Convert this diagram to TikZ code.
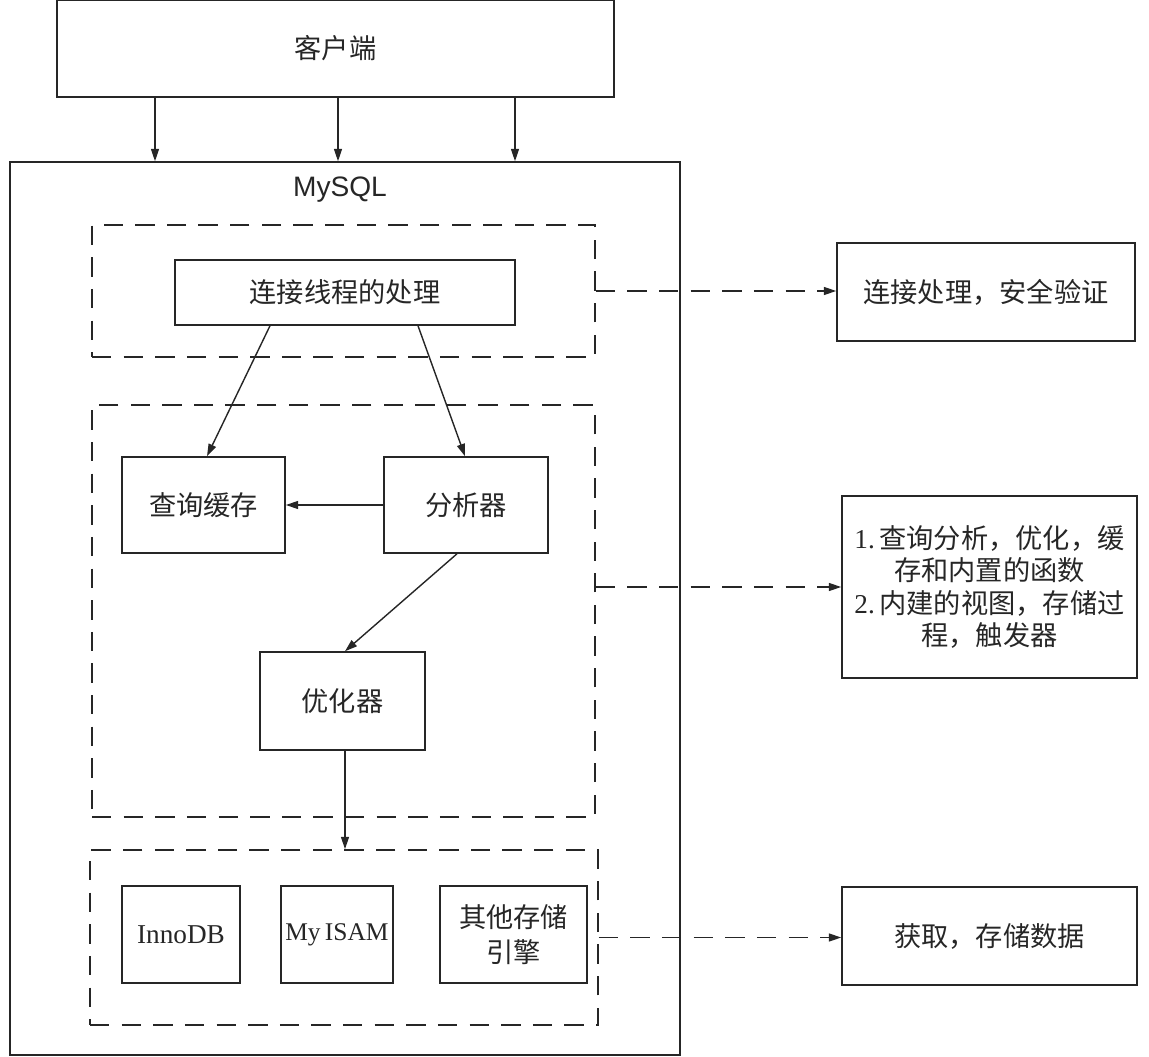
\documentclass[tikz,border=0pt]{standalone}
\usepackage{fontspec}
\setmainfont{Noto Sans CJK SC}
\newfontfamily\latin{Liberation Serif}
\newfontfamily\arial{Liberation Sans}
\usetikzlibrary{arrows.meta}
\definecolor{ink}{gray}{0.15}
\tikzset{
  every node/.style={
    text=ink
  },
  box/.style={draw=ink, line width=0.9pt, align=center, inner sep=2pt},
  group/.style={draw=ink, line width=0.9pt, dash pattern=on 11pt off 7pt},
  arr/.style={draw=ink, line width=0.8pt, -{Triangle[length=7pt,width=4.5pt]}},
  darr/.style={arr, dash pattern=on 11pt off 7pt}
}

\begin{document}
\begin{tikzpicture}[x=0.02cm, y=-0.02cm, font=\fontsize{15.5}{18}\selectfont]
    %\draw[gray, very thin] (0,0) grid (1149,1057);
    \useasboundingbox (0,0) rectangle (1149,1057);
    % client and server
    \node[box, minimum width=11.14cm, minimum height=1.94cm] (client) at (335.5,48.5) {客户端};
    \node[box, minimum width=13.4cm, minimum height=17.86cm] (mysql) at (345,608.5) {};
    \node[font=\arial\fontsize{16}{18}\selectfont] (title) at (340,190) {MySQL};
    \foreach \x in {155,338,515}
        \draw[arr] (client.south -| \x,0) -- (mysql.north -| \x,0);
    % dashed groups
    \node[group, minimum width=10.06cm, minimum height=2.64cm] (grp1) at (343.5,291) {};
    \node[group, minimum width=10.06cm, minimum height=8.24cm] (grp2) at (343.5,611) {};
    \node[group, minimum width=10.16cm, minimum height=3.5cm] (grp3) at (344,937.5) {};
    % inner boxes
    \node[box, minimum width=6.8cm, minimum height=1.3cm] (conn) at (345,292.5) {连接线程的处理};
    \node[box, minimum width=3.26cm, minimum height=1.92cm] (cache) at (203.5,505) {查询缓存};
    \node[box, minimum width=3.28cm, minimum height=1.92cm] (parser) at (466,505) {分析器};
    \node[box, minimum width=3.3cm, minimum height=1.96cm] (optim) at (342.5,701) {优化器};
    \node[box, minimum width=2.36cm, minimum height=1.94cm, font=\latin\fontsize{15.5}{18}\selectfont] (innodb) at (181,934.5) {InnoDB};
    \node[box, minimum width=2.24cm, minimum height=1.94cm, inner sep=0pt, font=\latin\fontsize{14.5}{18}\selectfont] (myisam) at (337,934.5) {My\,ISAM};
    \node[box, minimum width=2.94cm, minimum height=1.94cm, font=\fontsize{15.5}{20}\selectfont] (other) at (513.5,934.5) {其他存储\\引擎};
    % notes on the right
    \node[box, minimum width=5.96cm, minimum height=1.96cm] (note1) at (986,292) {连接处理，安全验证};
    \node[box, minimum width=5.9cm, minimum height=3.64cm, font=\fontsize{15.5}{18.3}\selectfont] (note2) at (989.5,587)
        {{\latin 1.}\,查询分析，优化，缓\\存和内置的函数\\{\latin 2.}\,内建的视图，存储过\\程，触发器};
    \node[box, minimum width=5.9cm, minimum height=1.96cm] (note3) at (989.5,936) {获取，存储数据};
    % flow inside
    \draw[arr] (conn.south -| 270,0) -- (cache.north -| 207,0);
    \draw[arr] (conn.south -| 418,0) -- (parser.north -| 465,0);
    \draw[arr] (parser.west) -- (cache.east);
    \draw[arr] (parser.south -| 457,0) -- (optim.north -| 345,0);
    \draw[arr] (optim.south -| 345,0) -- (grp3.north -| 345,0);
    % dashed pointers
    \draw[darr] (grp1.east) -- (note1.west |- grp1.east);
    \draw[darr] (grp2.east |- note2.west) -- (note2.west);
    \draw[darr] (grp3.east) -- (note3.west |- grp3.east);
\end{tikzpicture}
\end{document}
